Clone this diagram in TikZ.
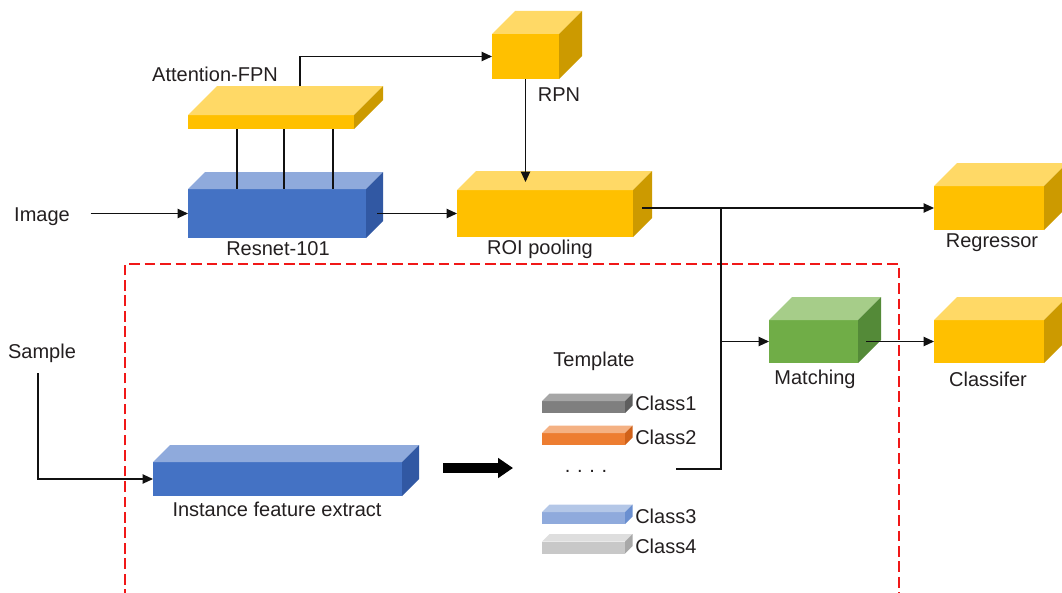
\documentclass[tikz,border=0pt]{standalone}
\usepackage{fontspec}
\setmainfont{Liberation Sans}
\usetikzlibrary{arrows.meta,calc}

% face colours: front / top / side
\definecolor{goldF}{HTML}{FFC000}
\definecolor{goldT}{HTML}{FFD966}
\definecolor{goldS}{HTML}{CC9A00}
\definecolor{blueF}{HTML}{4472C4}
\definecolor{blueT}{HTML}{8FAADC}
\definecolor{blueS}{HTML}{3158A3}
\definecolor{greenF}{HTML}{70AD47}
\definecolor{greenT}{HTML}{A6CD89}
\definecolor{greenS}{HTML}{548A38}
\definecolor{grayF}{HTML}{7F7F7F}
\definecolor{grayT}{HTML}{A6A6A6}
\definecolor{grayS}{HTML}{5E5E5E}
\definecolor{orangeF}{HTML}{ED7D31}
\definecolor{orangeT}{HTML}{F4B183}
\definecolor{orangeS}{HTML}{D0621A}
\definecolor{lblueF}{HTML}{8FAADC}
\definecolor{lblueT}{HTML}{B4C7E7}
\definecolor{lblueS}{HTML}{6A8FD0}
\definecolor{lgrayF}{HTML}{C8C8C8}
\definecolor{lgrayT}{HTML}{DEDEDE}
\definecolor{lgrayS}{HTML}{A8A8A8}
\definecolor{txt}{HTML}{231F20}
\definecolor{wire}{HTML}{111111}
\definecolor{frame}{HTML}{F01818}

% a box in cabinet view: name, centre x, centre y, width, height, depth, front, top, side
\newcommand\cuboid[9]{%
  \node[inner sep=0pt, outer sep=0pt, minimum width=#4*0.75pt, minimum height=#5*0.75pt] (#1) at (#2,#3) {};
  \fill[#7] (#1.north west) rectangle (#1.south east);
  \fill[#8] (#1.north west) -- ++(#6,-#6) -- ([shift={(#6,-#6)}]#1.north east) -- (#1.north east) -- cycle;
  \fill[#9] (#1.north east) -- ++(#6,-#6) -- ([shift={(#6,-#6)}]#1.south east) -- (#1.south east) -- cycle;
}

\tikzset{
  lbl/.style={font=\fontsize{15}{17}\selectfont, text=txt, inner sep=0pt},
  ln/.style={draw=wire, line width=0.9pt},
  arr/.style={ln, -{Triangle[length=7.8pt,width=7pt]}},
  bigarr/.style={draw=black, line width=6.8pt, -{Triangle[length=11.25pt,width=14.5pt]}},
  region/.style={draw=frame, line width=1.1pt, dash pattern=on 8pt off 3.6pt},
}

\begin{document}
\begin{tikzpicture}[x=0.75pt, y=-0.75pt]
\useasboundingbox (0,0) rectangle (1062,592);

% dashed region of the few-shot branch
\draw[region] (125,600) -- (125,264) -- (899,264) -- (899,600);

% boxes
\cuboid{fpn}{271}{122}{166}{14}{29}{goldF}{goldT}{goldS}
\cuboid{res}{277}{213.5}{178}{49}{17}{blueF}{blueT}{blueS}
\cuboid{rpn}{525.5}{56.5}{67}{45}{23}{goldF}{goldT}{goldS}
\cuboid{roi}{545}{213.5}{176}{47}{19}{goldF}{goldT}{goldS}
\cuboid{reg}{989}{208}{110}{44}{23}{goldF}{goldT}{goldS}
\cuboid{mat}{813.5}{341.5}{89}{43}{23}{greenF}{greenT}{greenS}
\cuboid{cls}{989}{341.5}{110}{43}{23}{goldF}{goldT}{goldS}
\cuboid{inst}{277.5}{479}{249}{34}{17}{blueF}{blueT}{blueS}
\cuboid{c1}{583.5}{407}{83}{12}{7.5}{grayF}{grayT}{grayS}
\cuboid{c2}{583.5}{439}{83}{12}{7.5}{orangeF}{orangeT}{orangeS}
\cuboid{c3}{583.5}{518}{83}{12}{7.5}{lblueF}{lblueT}{lblueS}
\cuboid{c4}{583.5}{547.5}{83}{12}{7.5}{lgrayF}{lgrayT}{lgrayS}

% labels
\node[lbl] (tfpn) at (215,74) {Attention-FPN};
\node[lbl] (timg) at (42,217) {Image};
\node[lbl] (tres) at (278,249) {Resnet-101};
\node[lbl] (trpn) at (559,95) {RPN};
\node[lbl] (troi) at (540,249) {ROI pooling};
\node[lbl] (treg) at (992,243) {Regressor};
\node[lbl] (tmat) at (815,379) {Matching};
\node[lbl] (tcls) at (988,379) {Classifer};
\node[lbl] (tsmp) at (42,353) {Sample};
\node[lbl] (tinst) at (277,509) {Instance feature extract};
\node[lbl] (ttpl) at (594,361) {Template};
\node[lbl, anchor=west] (l1) at (635,403) {Class1};
\node[lbl, anchor=west] (l2) at (635,437) {Class2};
\node[lbl, anchor=west] (l3) at (635,516) {Class3};
\node[lbl, anchor=west] (l4) at (635,546) {Class4};
\node[lbl] (tdots) at (586,471) {.\,\,.\,\,.\,\,.};

% free ends of connectors
\coordinate (fpntop) at (300,86);
\coordinate (jn) at (721,208);
\coordinate (tplend) at (676,469);
\coordinate (smpline) at (38,373);
\coordinate (ta) at (443,468);
\coordinate (tb) at (513,468);

% connectors
\draw[arr, shorten <=15.5pt] (timg.east |- res.west) -- (res.west);
\foreach \o in {49,96,145}
  \draw[ln] ([xshift=\o*0.75pt]fpn.south west) -- ([xshift=\o*0.75pt]fpn.south west |- res.north);
\draw[arr] (fpntop) |- (rpn.west);
\draw[arr] (rpn.south) -- ([yshift=6pt]roi.north -| rpn.south);
\draw[arr] ([xshift=8.25pt]res.east) -- (roi.west);
\draw[arr] (roi.east |- reg.west) ++(9,0) -- (reg.west);
\draw[ln] (jn) |- (tplend);
\draw[arr] (jn |- mat.west) -- (mat.west);
\draw[arr] ([xshift=6pt]mat.east) -- (cls.west);
\draw[arr] (smpline) |- (inst.west);
\draw[bigarr] (ta) -- (tb);
\end{tikzpicture}
\end{document}
